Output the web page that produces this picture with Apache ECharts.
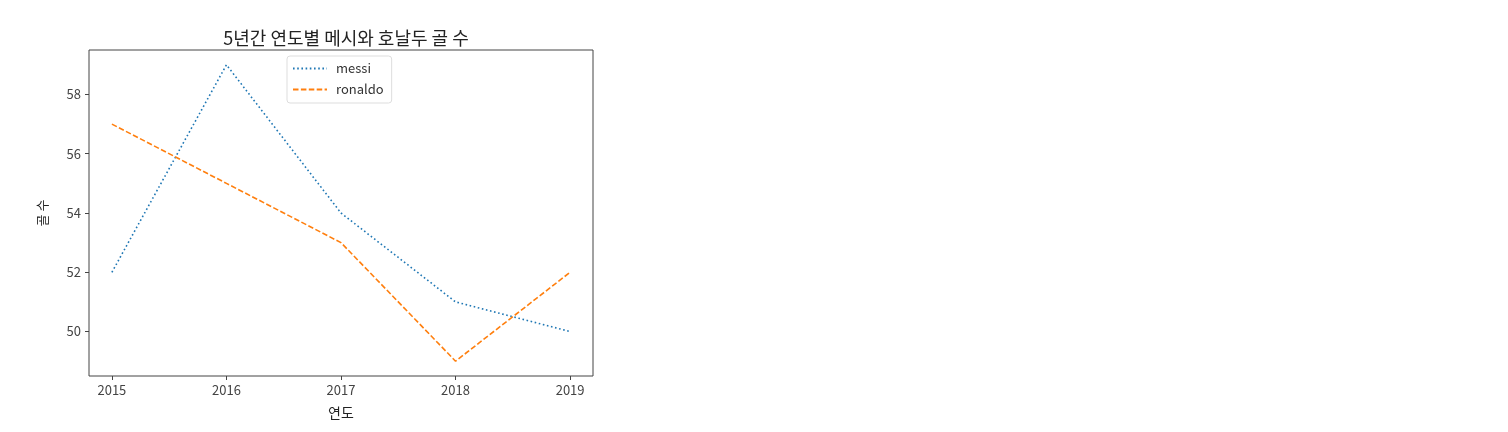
<!DOCTYPE html>
<html><head><meta charset="utf-8">
<script src="https://cdn.jsdelivr.net/npm/echarts@6/dist/echarts.min.js"></script>
<style>html,body{margin:0;padding:0;background:#fff}#c{width:1508px;height:432px}</style>
</head><body><div id="c"></div>
<script>
const years = [2015, 2016, 2017, 2018, 2019];
const messi = [52, 59, 54, 51, 50];
const ronaldo = [57, 55, 53, 49, 52];
const yTicks = [50, 52, 54, 56, 58];
const title = '5년간 연도별 메시와 호날두 골 수';
const xName = '연도';
const yName = '골 수';

const font = '"Noto Sans CJK KR", "Noto Sans", sans-serif';
const chart = echarts.init(document.getElementById('c'));
chart.setOption({
  animation: false,
  title: {text: title, left: 341, top: 23, textAlign: 'center',
    textStyle: {fontFamily: font, fontSize: 18, fontWeight: 'normal', color: '#222', lineHeight: 20}},
  grid: {left: 89, right: 915, top: 50, bottom: 56, show: true, borderColor: '#444', borderWidth: 1},
  legend: {orient: 'vertical', left: 287, top: 56, padding: [6, 8, 7, 5], itemGap: 8,
    itemWidth: 34, itemHeight: 14, borderColor: '#ddd', borderWidth: 1, borderRadius: 3,
    itemStyle: {opacity: 0},
    textStyle: {fontFamily: font, fontSize: 13, color: '#333', padding: [0, 0, 0, 4]},
    data: ['messi', 'ronaldo']},
  xAxis: {type: 'value', min: 2014.8, max: 2019.2,
    name: xName, nameLocation: 'middle', nameGap: 30,
    nameTextStyle: {fontFamily: font, fontSize: 14, color: '#222'},
    axisLine: {show: false}, splitLine: {show: false},
    axisTick: {show: true, length: 4, customValues: years, lineStyle: {color: '#444'}},
    axisLabel: {customValues: years, fontFamily: font, fontSize: 13, color: '#444', margin: 8,
      formatter: v => String(Math.round(v))}},
  yAxis: {type: 'value', min: 48.5, max: 59.5,
    name: yName, nameLocation: 'middle', nameGap: 40, nameRotate: 90,
    nameTextStyle: {fontFamily: font, fontSize: 13, color: '#222'},
    axisLine: {show: false}, splitLine: {show: false},
    axisTick: {show: true, length: 4, customValues: yTicks, lineStyle: {color: '#444'}},
    axisLabel: {customValues: yTicks, fontFamily: font, fontSize: 13, color: '#444', margin: 8}},
  series: [
    {name: 'messi', type: 'line', symbol: 'none', data: years.map((y, i) => [y, messi[i]]),
      itemStyle: {color: '#1f77b4'},
      lineStyle: {color: '#1f77b4', width: 1.6, type: [1.6, 2.6]}},
    {name: 'ronaldo', type: 'line', symbol: 'none', data: years.map((y, i) => [y, ronaldo[i]]),
      itemStyle: {color: '#ff7f0e'},
      lineStyle: {color: '#ff7f0e', width: 1.6, type: [5.5, 2.4]}}
  ]
});
</script></body></html>
